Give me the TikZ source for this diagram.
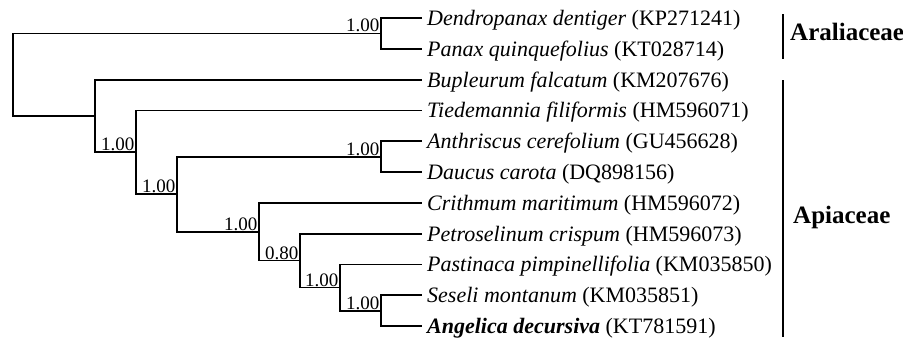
\documentclass[tikz,border=0pt]{standalone}
\usepackage{fontspec}
\setmainfont{Liberation Serif}
\begin{document}
\begin{tikzpicture}[x=1pt,y=-1pt,
  branch/.style={line width=1.8pt, line join=miter},
  famline/.style={line width=2.4pt},
  leaf/.style={anchor=base west, inner sep=0pt, font=\fontsize{22}{24}\selectfont},
  support/.style={anchor=south east, inner xsep=1.5pt, inner ysep=1pt, font=\fontsize{19}{21}\selectfont},
  family/.style={anchor=base west, inner sep=0pt, font=\fontsize{25}{27}\selectfont\bfseries}]
\useasboundingbox (0,0) rectangle (903,341);

% leaf tips
\foreach \i/\y in {1/18,2/48.8,3/79.6,4/110.4,5/141.2,6/172,7/202.8,8/233.6,9/264.4,10/295.2,11/326}
  \coordinate (t\i) at (422,\y);

% internal nodes
\coordinate (ar)   at (381,33.4);
\coordinate (ad)   at (381,156.6);
\coordinate (a7)   at (381,310.6);
\coordinate (a6)   at (340,287.5);
\coordinate (a5)   at (300,260.5);
\coordinate (a4)   at (259,231.7);
\coordinate (a3)   at (177,194.2);
\coordinate (a2)   at (136,152.3);
\coordinate (a1)   at (95,116);
\coordinate (root) at (13,74.7);

% branches
\foreach \n/\c in {ar/t1,ar/t2,ad/t5,ad/t6,a7/t10,a7/t11,a6/t9,a6/a7,a5/t8,a5/a6,
                   a4/t7,a4/a5,a3/ad,a3/a4,a2/t4,a2/a3,a1/t3,a1/a2,root/ar,root/a1}
  \draw[branch] (\n) |- (\c);

% support values
\node[support] (s-ar) at (ar) {1.00};
\node[support] (s-ad) at (ad) {1.00};
\node[support] (s-a7) at (a7) {1.00};
\node[support] (s-a6) at (a6) {1.00};
\node[support] (s-a5) at (a5) {0.80};
\node[support] (s-a4) at (a4) {1.00};
\node[support] (s-a3) at (a3) {1.00};
\node[support] (s-a2) at (a2) {1.00};

% taxa
\node[leaf] (n1)  at ([shift={(5,7.5)}]t1)  {\textit{Dendropanax dentiger} (KP271241)};
\node[leaf] (n2)  at ([shift={(5,7.5)}]t2)  {\textit{Panax quinquefolius} (KT028714)};
\node[leaf] (n3)  at ([shift={(5,7.5)}]t3)  {\textit{Bupleurum falcatum} (KM207676)};
\node[leaf] (n4)  at ([shift={(5,7.5)}]t4)  {\textit{Tiedemannia filiformis} (HM596071)};
\node[leaf] (n5)  at ([shift={(5,7.5)}]t5)  {\textit{Anthriscus cerefolium} (GU456628)};
\node[leaf] (n6)  at ([shift={(5,7.5)}]t6)  {\textit{Daucus carota} (DQ898156)};
\node[leaf] (n7)  at ([shift={(5,7.5)}]t7)  {\textit{Crithmum maritimum} (HM596072)};
\node[leaf] (n8)  at ([shift={(5,7.5)}]t8)  {\textit{Petroselinum crispum} (HM596073)};
\node[leaf] (n9)  at ([shift={(5,7.5)}]t9)  {\textit{Pastinaca pimpinellifolia} (KM035850)};
\node[leaf] (n10) at ([shift={(5,7.5)}]t10) {\textit{Seseli montanum} (KM035851)};
\node[leaf] (n11) at ([shift={(5,7.5)}]t11) {\textbf{\textit{Angelica decursiva}} (KT781591)};

% family brackets
\coordinate (fa1) at (783,14);
\coordinate (fa2) at (783,59);
\coordinate (fb1) at (783,80);
\coordinate (fb2) at (783,337);
\draw[famline] (fa1) -- (fa2);
\draw[famline] (fb1) -- (fb2);
\node[family] (fam-a) at (790,40) {Araliaceae};
\node[family] (fam-b) at (793,223) {Apiaceae};
\end{tikzpicture}
\end{document}
